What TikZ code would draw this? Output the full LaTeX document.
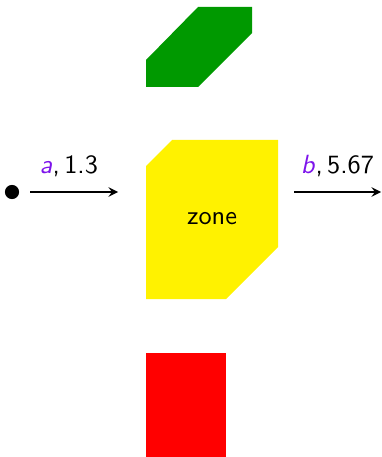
\documentclass[tikz,border=0pt]{standalone}
\usetikzlibrary{arrows}
\definecolor{lblviolet}{RGB}{125,20,235}

\begin{document}
\begin{tikzpicture}[x=0.38pt,y=-0.38pt,>=stealth,font=\sffamily]
  \useasboundingbox (0,0) rectangle (381,457);
  \fill[green!60!black] (146,87) -- (146,60) -- (198,7) -- (252,7) -- (252,33) -- (198,87) -- cycle;
  \fill[yellow] (146,299) -- (146,166) -- (172,140) -- (278,140) -- (278,247) -- (226,299) -- cycle;
  \fill[red] (146,353) rectangle (226,457);
  \node (zone) at (212,219) {zone};
  \node[circle,fill=black,inner sep=1.9pt] (start) at (12,192) {};
  \coordinate (zin) at (118,192);
  \coordinate (zout) at (294,192);
  \coordinate (stop) at (381,192);
  \draw[->,semithick,shorten <=4pt] (start) -- (zin)
    node[midway,above=2pt] {\textcolor{lblviolet}{\textit{a}},\,1.3};
  \draw[->,semithick] (zout) -- (stop)
    node[midway,above=2pt] {\textcolor{lblviolet}{\textit{b}},\,5.67};
\end{tikzpicture}
\end{document}
